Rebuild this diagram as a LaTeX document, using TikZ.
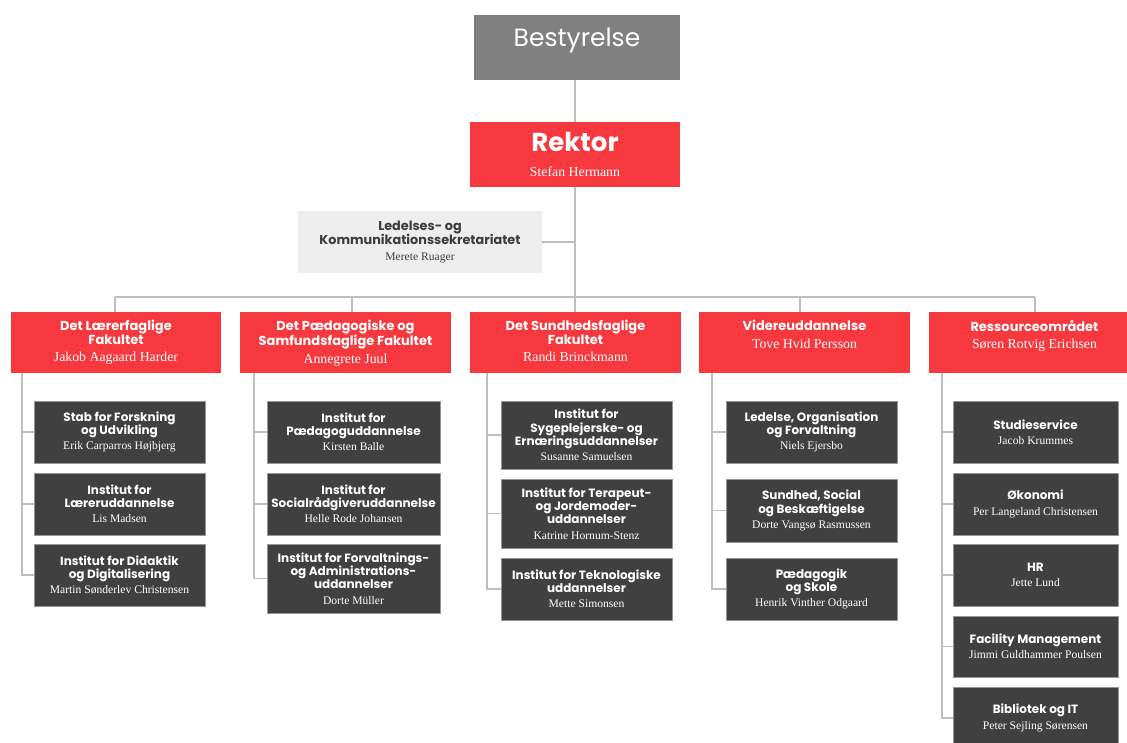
\documentclass[tikz,border=0pt]{standalone}
\usepackage{fontspec}
\setmainfont{Liberation Serif}
\newfontfamily\titlefont{Poppins}
\definecolor{ucred}{RGB}{247,56,62}
\definecolor{boxdark}{RGB}{64,64,64}
\definecolor{boxedge}{RGB}{150,150,150}
\definecolor{bestgray}{RGB}{128,128,128}
\definecolor{sekfill}{RGB}{238,238,238}
\definecolor{sektext}{RGB}{60,60,60}
\definecolor{linegray}{RGB}{190,190,190}
\newcommand\pname[1]{{\rmfamily\mdseries\fontsize{11.6}{12}\selectfont #1}}
\newcommand\fname[1]{{\rmfamily\mdseries\fontsize{13.8}{14}\selectfont #1}}
\begin{document}
\begin{tikzpicture}[x=1pt,y=-1pt,
  conn/.style={draw=linegray, line width=1.5pt},
  darkbox/.style={fill=boxdark, draw=boxedge, line width=0.6pt, text=white, align=center, inner sep=1pt,
    font=\titlefont\bfseries\fontsize{12}{13.2}\selectfont},
  facbox/.style={fill=ucred, draw=none, text=white, align=center, inner sep=0pt},
  factext/.style={text=white, align=center, inner sep=0pt, anchor=north,
    font=\titlefont\bfseries\fontsize{13}{13.5}\selectfont},
  sekbox/.style={fill=sekfill, draw=none, text=sektext, align=center, inner sep=0pt,
    font=\titlefont\bfseries\fontsize{12.8}{14}\selectfont},
  bestbox/.style={fill=bestgray, draw=none, inner sep=0pt}
]
\useasboundingbox (0,0) rectangle (1127,743);

% top
\node[bestbox, minimum width=206pt, minimum height=65pt] (best) at (577,47.5) {};
\node[text=white, inner sep=0pt, font=\titlefont\fontsize{25}{28}\selectfont] (bestt) at (577,40) {Bestyrelse};
\node[facbox, minimum width=210pt, minimum height=65pt, font=\titlefont\bfseries\fontsize{26}{26}\selectfont] (rek) at (575,154.5)
  {Rektor\\[-1pt]\fname{Stefan Hermann}};
\node[sekbox, minimum width=244pt, minimum height=62pt] (sek) at (420,242)
  {Ledelses- og\\Kommunikationssekretariatet\\[2pt]\pname{Merete Ruager}};

% bus
\coordinate (busL) at (115,297);
\coordinate (busR) at (1035,297);
\coordinate (busM) at (575,297);
\coordinate (d1) at (115,297);
\coordinate (d2) at (352,297);
\coordinate (d3) at (575,297);
\coordinate (d4) at (800,297);
\coordinate (d5) at (1035,297);

% faculties
\node[facbox, minimum width=210pt, minimum height=61pt] (f1) at (116,342.5) {};
\node[factext] (f1t) at (116,320) {Det Lærerfaglige\\Fakultet\\[4pt]\fname{Jakob Aagaard Harder}};
\node[facbox, minimum width=211pt, minimum height=61pt] (f2) at (345.5,342.5) {};
\node[factext] (f2t) at (345.5,320) {Det Pædagogiske og\\Samfundsfaglige Fakultet\\[4pt]\fname{Annegrete Juul}};
\node[facbox, minimum width=211pt, minimum height=61pt] (f3) at (575.5,342.5) {};
\node[factext] (f3t) at (575.5,320) {Det Sundhedsfaglige\\Fakultet\\[4pt]\fname{Randi Brinckmann}};
\node[facbox, minimum width=211pt, minimum height=61pt] (f4) at (804.5,342.5) {};
\node[factext] (f4t) at (804.5,320) {Videreuddannelse\\[4pt]\fname{Tove Hvid Persson}};
\node[facbox, minimum width=211pt, minimum height=61pt] (f5) at (1034.5,342.5) {};
\node[factext] (f5t) at (1034.5,320) {Ressourceområdet\\[4pt]\fname{Søren Rotvig Erichsen}};

% column 1
\node[darkbox, minimum width=171pt, minimum height=62pt] (b11) at (119.5,432) {Stab for Forskning\\og Udvikling\\[2pt]\pname{Erik Carparros Højbjerg}};
\node[darkbox, minimum width=171pt, minimum height=62pt] (b12) at (119.5,504) {Institut for\\Læreruddannelse\\[2pt]\pname{Lis Madsen}};
\node[darkbox, minimum width=171pt, minimum height=62pt] (b13) at (119.5,575) {Institut for Didaktik\\og Digitalisering\\[2pt]\pname{Martin Sønderlev Christensen}};

% column 2
\node[darkbox, minimum width=173pt, minimum height=62pt] (b21) at (353.5,432) {Institut for\\Pædagoguddannelse\\[2pt]\pname{Kirsten Balle}};
\node[darkbox, minimum width=173pt, minimum height=62pt] (b22) at (353.5,504) {Institut for\\Socialrådgiveruddannelse\\[2pt]\pname{Helle Rode Johansen}};
\node[darkbox, minimum width=173pt, minimum height=69pt] (b23) at (353.5,578.5) {Institut for Forvaltnings-\\og Administrations-\\uddannelser\\[2pt]\pname{Dorte Müller}};

% column 3
\node[darkbox, minimum width=171pt, minimum height=68pt] (b31) at (586.5,435) {Institut for\\Sygeplejerske- og\\Ernæringsuddannelser\\[2pt]\pname{Susanne Samuelsen}};
\node[darkbox, minimum width=171pt, minimum height=69pt] (b32) at (586.5,513.5) {Institut for Terapeut-\\og Jordemoder-\\uddannelser\\[2pt]\pname{Katrine Hornum-Stenz}};
\node[darkbox, minimum width=171pt, minimum height=62pt] (b33) at (586.5,589) {Institut for Teknologiske\\uddannelser\\[2pt]\pname{Mette Simonsen}};

% column 4
\node[darkbox, minimum width=171pt, minimum height=62pt] (b41) at (811.5,432) {Ledelse, Organisation\\og Forvaltning\\[2pt]\pname{Niels Ejersbo}};
\node[darkbox, minimum width=171pt, minimum height=63pt] (b42) at (811.5,510.5) {Sundhed, Social\\og Beskæftigelse\\[2pt]\pname{Dorte Vangsø Rasmussen}};
\node[darkbox, minimum width=171pt, minimum height=62pt] (b43) at (811.5,589) {Pædagogik\\og Skole\\[2pt]\pname{Henrik Vinther Odgaard}};

% column 5
\node[darkbox, minimum width=165pt, minimum height=62pt] (b51) at (1035.5,432) {Studieservice\\[2pt]\pname{Jacob Krummes}};
\node[darkbox, minimum width=165pt, minimum height=62pt] (b52) at (1035.5,504) {Økonomi\\[2pt]\pname{Per Langeland Christensen}};
\node[darkbox, minimum width=165pt, minimum height=62pt] (b53) at (1035.5,575) {HR\\[2pt]\pname{Jette Lund}};
\node[darkbox, minimum width=165pt, minimum height=61pt] (b54) at (1035.5,646.5) {Facility Management\\[2pt]\pname{Jimmi Guldhammer Poulsen}};
\node[darkbox, minimum width=165pt, minimum height=62pt] (b55) at (1035.5,718) {Bibliotek og IT\\[2pt]\pname{Peter Sejling Sørensen}};

% connectors top
\draw[conn] (rek.north) -- (rek.north |- best.south);
\draw[conn] (rek.south) -- (busM);
\draw[conn] (sek.east) -- (sek.east -| rek.south);
\draw[conn] (busL) -- (busR);
\draw[conn] (d1) -- (d1 |- f1.north);
\draw[conn] (d2) -- (d2 |- f2.north);
\draw[conn] (d3) -- (d3 |- f3.north);
\draw[conn] (d4) -- (d4 |- f4.north);
\draw[conn] (d5) -- (d5 |- f5.north);

% column connectors
\coordinate (v1) at (22,373);
\coordinate (v2) at (254,373);
\coordinate (v3) at (487,373);
\coordinate (v4) at (712,373);
\coordinate (v5) at (942,373);
\draw[conn] (v1) |- (b11.west);
\draw[conn] (v1) |- (b12.west);
\draw[conn] (v1) |- (b13.west);
\draw[conn] (v2) |- (b21.west);
\draw[conn] (v2) |- (b22.west);
\draw[conn] (v2) |- (b23.west);
\draw[conn] (v3) |- (b31.west);
\draw[conn] (v3) |- (b32.west);
\draw[conn] (v3) |- (b33.west);
\draw[conn] (v4) |- (b41.west);
\draw[conn] (v4) |- (b42.west);
\draw[conn] (v4) |- (b43.west);
\draw[conn] (v5) |- (b51.west);
\draw[conn] (v5) |- (b52.west);
\draw[conn] (v5) |- (b53.west);
\draw[conn] (v5) |- (b54.west);
\draw[conn] (v5) |- (b55.west);
\end{tikzpicture}
\end{document}
